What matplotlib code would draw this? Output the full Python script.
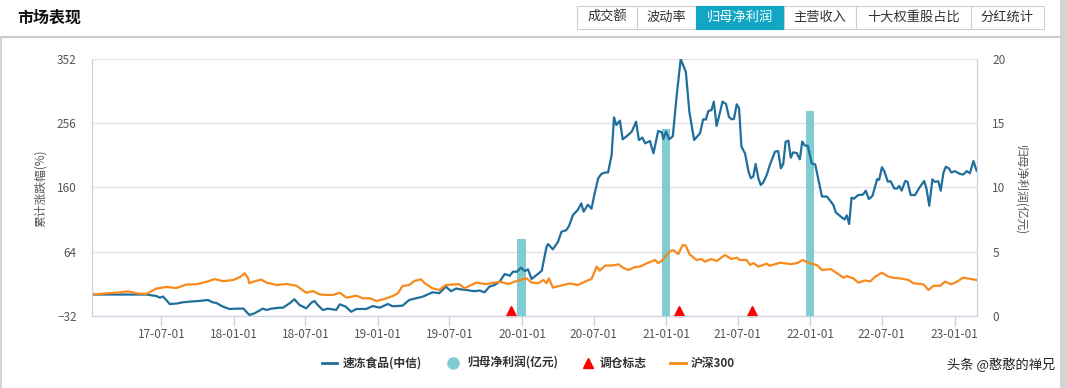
import matplotlib
matplotlib.use("Agg")
import matplotlib.pyplot as plt
import matplotlib.dates as mdates
import pandas as pd
from matplotlib.lines import Line2D
from matplotlib.patches import Rectangle

plt.rcParams['font.family'] = ['Noto Sans CJK SC', 'DejaVu Sans']

# 速冻食品(中信) cumulative change, %
blue_dates = [
    '2017-01-06', '2017-05-24', '2017-06-18', '2017-06-27', '2017-07-05', '2017-07-13', '2017-07-22',
    '2017-08-08', '2017-08-24', '2017-09-10', '2017-10-06', '2017-10-27', '2017-11-08', '2017-11-17',
    '2017-12-04', '2017-12-21', '2018-01-07', '2018-01-25', '2018-02-01', '2018-02-09', '2018-02-22',
    '2018-03-15', '2018-03-24', '2018-04-06', '2018-04-27', '2018-05-05', '2018-05-22', '2018-06-03',
    '2018-06-16', '2018-07-03', '2018-07-16', '2018-07-24', '2018-07-31', '2018-08-14', '2018-08-27',
    '2018-09-17', '2018-09-26', '2018-10-11', '2018-10-25', '2018-11-07', '2018-12-02', '2018-12-19',
    '2019-01-05', '2019-01-26', '2019-02-07', '2019-03-04', '2019-03-21', '2019-04-07', '2019-04-24',
    '2019-05-19', '2019-06-05', '2019-06-22', '2019-07-05', '2019-07-18', '2019-07-26', '2019-08-12',
    '2019-09-02', '2019-09-15', '2019-09-28', '2019-10-10', '2019-10-23', '2019-11-05', '2019-11-18',
    '2019-12-01', '2019-12-09', '2019-12-19', '2019-12-29', '2020-01-08', '2020-01-16', '2020-01-25',
    '2020-02-11', '2020-02-20', '2020-03-03', '2020-03-07', '2020-03-19', '2020-04-01', '2020-04-10',
    '2020-04-22', '2020-04-29', '2020-05-09', '2020-05-21', '2020-05-30', '2020-06-05', '2020-06-16',
    '2020-06-25', '2020-07-03', '2020-07-12', '2020-07-20', '2020-07-29', '2020-08-06', '2020-08-15',
    '2020-08-21', '2020-08-27', '2020-09-05', '2020-09-12', '2020-09-22', '2020-10-05', '2020-10-16',
    '2020-10-23', '2020-11-01', '2020-11-08', '2020-11-20', '2020-11-29', '2020-12-11', '2020-12-20',
    '2020-12-24', '2020-12-31', '2021-01-08', '2021-01-17', '2021-01-27', '2021-02-06', '2021-02-19',
    '2021-02-28', '2021-03-12', '2021-03-27', '2021-04-04', '2021-04-11', '2021-04-17', '2021-04-25',
    '2021-05-01', '2021-05-08', '2021-05-16', '2021-05-23', '2021-06-01', '2021-06-08', '2021-06-15',
    '2021-06-21', '2021-06-28', '2021-07-04', '2021-07-10', '2021-07-19', '2021-07-28', '2021-08-03',
    '2021-08-09', '2021-08-15', '2021-08-22', '2021-08-28', '2021-09-03', '2021-09-12', '2021-09-20',
    '2021-10-03', '2021-10-11', '2021-10-18', '2021-10-24', '2021-10-30', '2021-11-06', '2021-11-12',
    '2021-11-18', '2021-11-27', '2021-12-05', '2021-12-11', '2021-12-18', '2021-12-25', '2022-01-04',
    '2022-01-13', '2022-01-30', '2022-02-12', '2022-02-28', '2022-03-06', '2022-03-21', '2022-03-28',
    '2022-04-03', '2022-04-09', '2022-04-15', '2022-04-21', '2022-05-02', '2022-05-14', '2022-05-21',
    '2022-05-29', '2022-06-07', '2022-06-19', '2022-06-24', '2022-07-01', '2022-07-07', '2022-07-16',
    '2022-07-23', '2022-08-01', '2022-08-08', '2022-08-14', '2022-08-20', '2022-08-29', '2022-09-04',
    '2022-09-12', '2022-09-23', '2022-10-03', '2022-10-16', '2022-10-22', '2022-10-29', '2022-11-06',
    '2022-11-12', '2022-11-21', '2022-11-27', '2022-12-04', '2022-12-10', '2022-12-18', '2022-12-24',
    '2023-01-02', '2023-01-15', '2023-01-23', '2023-02-01', '2023-02-09', '2023-02-18', '2023-02-26',
]
blue_vals = [
    0, 0, -2.2, -4.7, -3, -8.1, -14.1,
    -13.5, -11.6, -10.6, -9.5, -8.1, -11.6, -12.5,
    -18.1, -21.6, -21, -21, -25.6, -30.5, -28,
    -21, -23, -21, -19.6, -19.6, -13, -7.1,
    -15.6, -20.6, -12.1, -9.6, -15, -23.1, -21,
    -23, -14.6, -18, -25.6, -21.5, -21.5, -17.1,
    -19.6, -14.1, -17.5, -16.6, -8.1, -5.7, -3.2,
    3.3, 2, 11.7, 5, 9, 8, 6.8,
    5, 6, 3.3, 11.7, 14.2, 19.2, 30.6,
    28, 34.1, 34, 40.1, 35, 37.6, 23.2,
    31, 35.6, 71.3, 75.3, 67.4, 78.7, 93.7,
    96, 102.2, 118.6, 126, 136, 123.6, 134,
    128, 151, 173.4, 179.8, 182, 182, 208.1,
    264.3, 252.8, 259.3, 231.5, 236, 242.9, 257.8,
    230.5, 234, 225.5, 229, 210.6, 243.9, 242,
    232, 243, 231.5, 236, 297.6, 350.8, 332.3,
    272.7, 230.5, 240.4, 261.3, 261, 273.7, 275,
    287.6, 251.3, 270.2, 287.6, 284, 265.2, 261.3,
    262, 283.7, 278, 220.5, 210.6, 183.2, 173.4,
    176, 194.7, 173, 163.4, 167, 178.3, 193.2,
    213, 214, 188.3, 195, 228, 229.5, 204.1,
    212, 211, 201.6, 228, 222, 222, 195.7,
    194, 146.3, 146, 133.5, 122.6, 115.1, 112,
    118, 105.2, 144.4, 143, 148.4, 149, 154.9,
    142.5, 147, 172.3, 171, 189.8, 184, 168.3,
    169, 158.4, 158, 162, 154.9, 169.3, 168,
    148.4, 148.4, 158.4, 169.3, 158, 132.5, 171.9,
    168, 169, 154.9, 181.7, 190.7, 188, 182,
    184, 179.8, 179, 184, 181, 199.1, 184.7,
]

# 沪深300 cumulative change, %
hs300_dates = [
    '2017-01-06', '2017-02-07', '2017-03-13', '2017-04-07', '2017-05-02', '2017-05-24', '2017-06-18',
    '2017-07-13', '2017-08-08', '2017-09-02', '2017-09-28', '2017-10-23', '2017-11-13', '2017-12-04',
    '2017-12-30', '2018-01-16', '2018-01-28', '2018-02-05', '2018-02-09', '2018-02-18', '2018-03-11',
    '2018-03-24', '2018-04-19', '2018-05-14', '2018-06-08', '2018-07-03', '2018-07-20', '2018-08-06',
    '2018-08-23', '2018-09-09', '2018-09-26', '2018-10-13', '2018-11-07', '2018-11-24', '2018-12-11',
    '2018-12-28', '2019-01-14', '2019-02-07', '2019-02-20', '2019-03-04', '2019-03-21', '2019-04-03',
    '2019-04-20', '2019-04-29', '2019-05-19', '2019-06-05', '2019-06-22', '2019-07-10', '2019-07-26',
    '2019-08-08', '2019-09-07', '2019-10-02', '2019-11-05', '2019-11-27', '2019-12-18', '2020-01-12',
    '2020-01-25', '2020-02-11', '2020-02-24', '2020-03-03', '2020-03-09', '2020-03-19', '2020-04-14',
    '2020-05-01', '2020-05-21', '2020-06-12', '2020-06-25', '2020-07-08', '2020-07-16', '2020-07-29',
    '2020-08-19', '2020-09-01', '2020-09-13', '2020-09-26', '2020-10-13', '2020-10-26', '2020-11-12',
    '2020-12-03', '2020-12-11', '2020-12-23', '2021-01-08', '2021-01-18', '2021-01-31', '2021-02-11',
    '2021-02-19', '2021-02-28', '2021-03-18', '2021-03-31', '2021-04-08', '2021-04-25', '2021-05-08',
    '2021-05-29', '2021-06-15', '2021-06-28', '2021-07-06', '2021-07-23', '2021-08-01', '2021-08-09',
    '2021-08-22', '2021-09-12', '2021-09-20', '2021-10-16', '2021-11-11', '2021-11-27', '2021-12-12',
    '2021-12-31', '2022-01-17', '2022-01-30', '2022-02-21', '2022-03-09', '2022-03-26', '2022-04-03',
    '2022-04-20', '2022-05-02', '2022-05-19', '2022-06-01', '2022-06-14', '2022-07-01', '2022-07-18',
    '2022-07-30', '2022-08-17', '2022-09-07', '2022-09-19', '2022-10-14', '2022-10-27', '2022-11-09',
    '2022-11-26', '2022-12-08', '2022-12-24', '2023-01-07', '2023-01-23', '2023-02-09', '2023-02-26',
]
hs300_vals = [
    0, 1.5, 3, 4.8, 1.5, 1, 8.9,
    11.3, 9.8, 14.9, 15.4, 19, 23, 20,
    21.6, 26, 31.7, 25, 16.8, 19, 22.3,
    17.9, 14.2, 15.7, 13.2, 2.7, 5.2, 0.3,
    -0.7, -0.5, 2.7, -4.7, -1.7, -5.7, -5.5,
    -9.6, -7.2, -2.2, 1.8, 12.7, 14.2, 20.2,
    22.7, 17, 9.3, 6.8, 14.2, 15, 15.5,
    9.3, 17.8, 15.5, 19.2, 15.7, 20.2, 24.2,
    18, 16.8, 21.7, 17, 24.2, 10.3, 14.2,
    16.5, 14.2, 20.2, 23.2, 41.6, 35.6, 43.1,
    43.5, 45.1, 40, 36.6, 41, 41.6, 46.6,
    51.5, 47, 51.5, 63.9, 66.4, 60.4, 73.9,
    73, 60.4, 51.5, 53, 49, 53, 50,
    58.9, 53, 55, 51.5, 51.5, 44.1, 47,
    41.6, 46, 43, 47.5, 45.5, 46.6, 51.5,
    46.6, 44, 36.6, 38, 31.7, 25.1, 27.5,
    24, 17.7, 21, 19.5, 26.6, 32.6, 26.6,
    25, 24, 21.7, 16.8, 15.3, 6.8, 13.2,
    13, 19.2, 15.3, 19.2, 25.1, 23.5, 21.7,
]

# 归母净利润 (亿元), annual
profit_dates = ['2019-12-31', '2020-12-31', '2021-12-31']
profit_vals = [6.0, 14.5, 15.9]

# 调仓标志
rebalance_dates = ['2019-12-05', '2021-02-02', '2021-08-05']

tick_labels = ['17-07-01', '18-01-01', '18-07-01', '19-01-01', '19-07-01', '20-01-01',
               '20-07-01', '21-01-01', '21-07-01', '22-01-01', '22-07-01', '23-01-01']
tabs = ['成交额', '波动率', '归母净利润', '主营收入', '十大权重股占比', '分红统计']

W, H = 1067, 388
BLUE = '#1f6e9c'
ORANGE = '#f88a1c'
TEAL = '#7fccd3'
AXC = '#c9d3e2'
TXT = '#555555'


def fx(x):
    return x / W


def fy(y):
    return 1 - y / H


fig = plt.figure(figsize=(W / 100, H / 100), dpi=100)

ax = fig.add_axes([fx(92), fy(316), fx(977) - fx(92), fy(58.5) - fy(316)])
ax2 = ax.twinx()
ax.set_zorder(ax2.get_zorder() + 1)
ax.patch.set_visible(False)

# bars on the right axis
ax2.bar(pd.to_datetime(profit_dates), profit_vals, width=22, color=TEAL, zorder=2)
ax2.set_ylim(0, 20)
ax2.set_yticks([0, 5, 10, 15, 20])
ax2.grid(axis='y', color='#e3e3e3', linewidth=1, zorder=0)
ax2.set_axisbelow(True)

ax.plot(pd.to_datetime(blue_dates), blue_vals, color=BLUE, lw=1.6, solid_joinstyle='round')
ax.plot(pd.to_datetime(hs300_dates), hs300_vals, color=ORANGE, lw=1.6, solid_joinstyle='round')
ax.plot(pd.to_datetime(rebalance_dates), [-24.8] * len(rebalance_dates), ls='none',
        marker='^', ms=7, color='#ff0000', clip_on=False)

ax.set_ylim(-32, 352)
ax.set_yticks([-32, 64, 160, 256, 352])
ax.set_xlim(pd.Timestamp('2017-01-06'), pd.Timestamp('2023-02-27'))
ax.set_xticks(pd.to_datetime(['20' + t for t in tick_labels]))
ax.xaxis.set_major_formatter(mdates.DateFormatter('%y-%m-%d'))

for a in (ax, ax2):
    for s in a.spines.values():
        s.set_color(AXC)
    a.spines['top'].set_visible(False)
ax.tick_params(axis='y', length=0, pad=11, labelsize=8.5, labelcolor=TXT)
ax2.tick_params(axis='y', length=0, pad=11, labelsize=8.5, labelcolor=TXT)
ax.tick_params(axis='x', length=7, width=1, color=AXC, pad=1.5, labelsize=8.5, labelcolor=TXT)

fig.text(fx(40), fy(188), '累计涨跌幅(%)', rotation=90, ha='center', va='center',
         fontsize=8.5, color=TXT)
fig.text(fx(1021), fy(190), '归母净利润(亿元)', rotation=270, ha='center', va='center',
         fontsize=8.5, color=TXT)

# header
fig.text(fx(17), fy(18), '市场表现', ha='left', va='center', fontsize=11.5,
         fontweight='bold', color='#111111')
edges = [577, 637, 695.5, 784, 856, 970.5, 1044]
for i, name in enumerate(tabs):
    active = name == '归母净利润'
    fig.add_artist(Rectangle((fx(edges[i]), fy(29)), fx(edges[i + 1]) - fx(edges[i]),
                             fy(6) - fy(29), transform=fig.transFigure,
                             facecolor='#11a6c3' if active else 'white',
                             edgecolor='#11a6c3' if active else '#cfcfcf', lw=0.8))
    fig.text(fx((edges[i] + edges[i + 1]) / 2), fy(17.5), name, ha='center', va='center',
             fontsize=9.5, color='white' if active else '#333333')
fig.add_artist(Line2D([0, fx(1060)], [fy(37), fy(37)], transform=fig.transFigure,
                      color='#cccccc', lw=1.5))
fig.add_artist(Rectangle((fx(1060), 0), fx(7), 1, transform=fig.transFigure,
                         facecolor='#d4d4d4', edgecolor='none'))
fig.add_artist(Rectangle((0, 0), fx(2), fy(37), transform=fig.transFigure,
                         facecolor='#d4d4d4', edgecolor='none'))

# legend
ly = fy(363)
fig.add_artist(Line2D([fx(322), fx(337)], [ly, ly], transform=fig.transFigure, color=BLUE, lw=2))
fig.text(fx(343), ly, '速冻食品(中信)', va='center', fontsize=8.5, fontweight='bold', color='#333333')
fig.add_artist(Line2D([fx(452.5)], [ly], transform=fig.transFigure, marker='o', ms=8,
                      color=TEAL, ls='none'))
fig.text(fx(467), ly, '归母净利润(亿元)', va='center', fontsize=8.5, fontweight='bold', color='#333333')
fig.add_artist(Line2D([fx(588)], [ly], transform=fig.transFigure, marker='^', ms=7,
                      color='#ff0000', ls='none'))
fig.text(fx(600), ly, '调仓标志', va='center', fontsize=8.5, fontweight='bold', color='#333333')
fig.add_artist(Line2D([fx(670), fx(686)], [ly, ly], transform=fig.transFigure, color=ORANGE, lw=2))
fig.text(fx(691), ly, '沪深300', va='center', fontsize=8.5, fontweight='bold', color='#333333')

# watermark
fig.text(fx(1055), fy(365), '头条 @憨憨的禅兄', va='center', ha='right', fontsize=9.5,
         color='#222222', zorder=5)

fig.savefig('out.png', dpi=100)
